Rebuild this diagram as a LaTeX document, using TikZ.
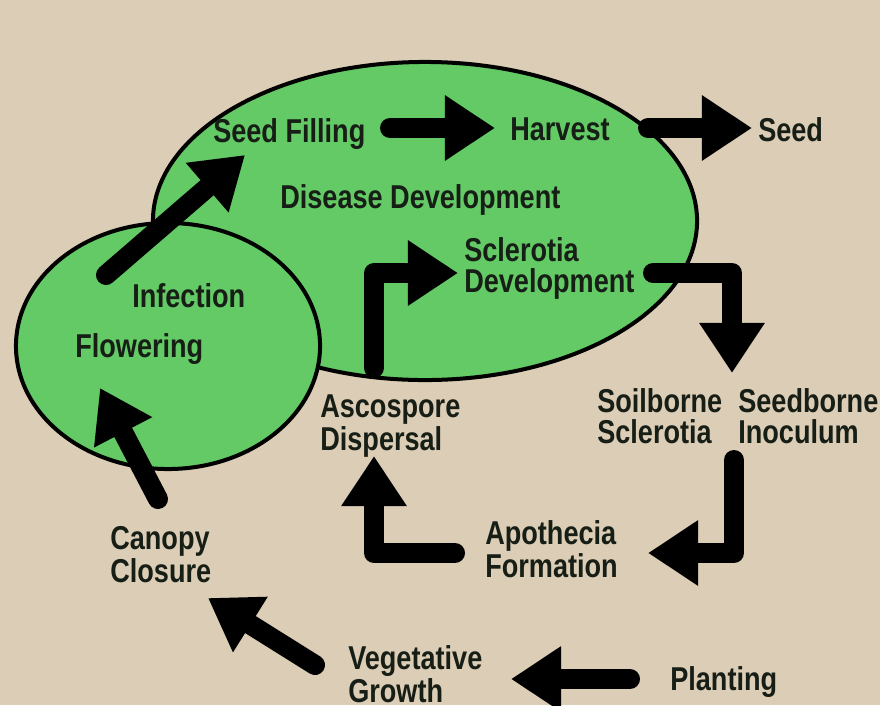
\documentclass[tikz,border=0pt]{standalone}
\usepackage{fontspec}
\setmainfont{Liberation Sans}[FakeStretch=0.82]
\usepackage{xcolor}
\usetikzlibrary{arrows.meta}
\definecolor{paper}{RGB}{220,205,182}
\definecolor{leaf}{RGB}{99,202,102}
\definecolor{ink}{RGB}{22,30,22}

\begin{document}
\begin{tikzpicture}[
  x=0.025cm, y=-0.025cm,
  font=\fontsize{23.5}{21.5}\selectfont\bfseries,
  stage/.style={text=ink, align=left, inner sep=0pt, anchor=base west},
  oval/.style={draw=black, fill=leaf, line width=0.1cm},
  arr/.style={line width=0.5cm, line cap=round, line join=round, -{Triangle[length=1.25cm,width=1.55cm]}}
]
\fill[paper] (0,0) rectangle (880,705);
\useasboundingbox (0,0) rectangle (880,705);
% disease ovals
\draw[oval] (425,221) ellipse [x radius=6.8cm, y radius=3.975cm];
\draw[oval] (168,346) ellipse [x radius=3.8cm, y radius=3.075cm];
% stages (two-line labels sit on their last baseline)
\node[stage] (seedfill) at (213,142) {Seed Filling};
\node[stage] (harvest) at (510,140) {Harvest};
\node[stage] (seed) at (758,141) {Seed};
\node[stage] (disease) at (280,208) {Disease Development};
\node[stage] (scldev) at (464,292) {Sclerotia\\Development};
\node[stage] (infect) at (132,307) {Infection};
\node[stage] (flower) at (75,357) {Flowering};
\node[stage] (asco) at (320,450) {Ascospore\\Dispersal};
\node[stage] (soil) at (597,443) {Soilborne\\Sclerotia};
\node[stage] (seedborne) at (738,443) {Seedborne\\Inoculum};
\node[stage] (apoth) at (485,577) {Apothecia\\Formation};
\node[stage] (canopy) at (110,582) {Canopy\\Closure};
\node[stage] (veg) at (348,702) {Vegetative\\Growth};
\node[stage] (plant) at (670,690) {Planting};
% arrow ends
\coordinate (fill-out) at (390,128);
\coordinate (harv-in) at (495,128);
\coordinate (harv-out) at (648,128);
\coordinate (seed-in) at (752,128);
\coordinate (inf-out) at (106,275);
\coordinate (fill-in) at (245,155);
\coordinate (asco-out) at (374,368);
\coordinate (scl-in) at (458,273);
\coordinate (scl-out) at (653,273);
\coordinate (soil-in) at (732,373);
\coordinate (soil-out) at (734,460);
\coordinate (apo-in) at (648,553);
\coordinate (apo-out) at (455,553);
\coordinate (asco-in) at (374,456);
\coordinate (can-out) at (158,499);
\coordinate (flo-in) at (100,388);
\coordinate (veg-out) at (315,665);
\coordinate (can-in) at (208,598);
\coordinate (pla-out) at (630,679);
\coordinate (veg-in) at (511,679);
% cycle
\draw[arr] (fill-out) -- (harv-in);
\draw[arr] (harv-out) -- (seed-in);
\draw[arr] (inf-out) -- (fill-in);
\draw[arr] (asco-out) |- (scl-in);
\draw[arr] (scl-out) -| (soil-in);
\draw[arr] (soil-out) |- (apo-in);
\draw[arr] (apo-out) -| (asco-in);
\draw[arr] (can-out) -- (flo-in);
\draw[arr] (veg-out) -- (can-in);
\draw[arr] (pla-out) -- (veg-in);
\end{tikzpicture}
\end{document}
